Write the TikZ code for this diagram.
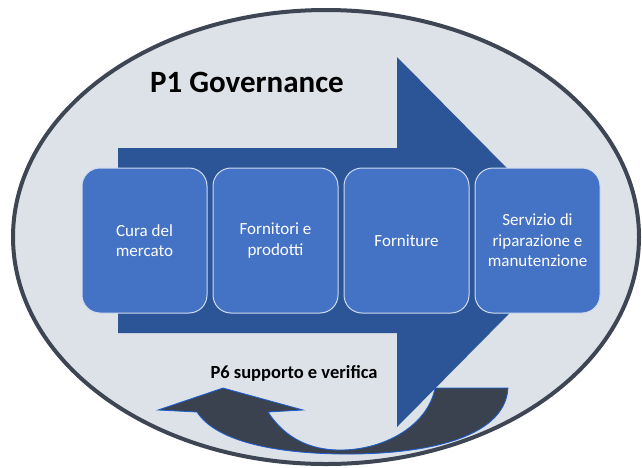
\documentclass[tikz,border=0pt]{standalone}
\usepackage{fontspec}
\setmainfont{Carlito}
\usetikzlibrary{positioning}
\definecolor{rimgray}{HTML}{3E4653}
\definecolor{ovalfill}{HTML}{DDE1E8}
\definecolor{flowblue}{HTML}{2C5597}
\definecolor{boxblue}{HTML}{4472C4}
\definecolor{loopgray}{HTML}{3A4250}
\definecolor{loopedge}{HTML}{1F5FD6}
\tikzset{phase/.style={draw=white!75!boxblue, line width=1pt, fill=boxblue, rounded corners=18pt,
   minimum width=125pt, minimum height=145pt, text width=115pt, align=flush center, inner sep=0pt,
   text=white, font=\fontsize{17}{20.5}\selectfont},
 heading/.style={black, font=\bfseries\fontsize{31}{36}\selectfont},
 subheading/.style={black, font=\bfseries\fontsize{18.5}{22}\selectfont}}

\begin{document}
\begin{tikzpicture}[x=1pt,y=-1pt]
   \useasboundingbox (0,0) rectangle (642,467);
   \draw[rimgray, line width=4pt, fill=ovalfill] (326,237) ellipse [x radius=313, y radius=227];
   % main flow arrow
   \fill[flowblue] (118,148) -- (397,148) -- (397,57) -- (580,242) -- (397,427) -- (397,333) -- (118,333) -- cycle;
   \node[heading] (gov) at (247,82) {P1 Governance};
   \node[phase] (cura) at (144.5,240.5) {Cura del\\mercato};
   \node[phase, right=5pt of cura] (forni) {Fornitori e\\prodotti};
   \node[phase, right=5pt of forni] (forniture) {Forniture};
   \node[phase, right=5pt of forniture] (servizio) {Servizio di\\riparazione e\\manutenzione};
   % return arrow
   \draw[loopedge, line width=0.8pt, fill=loopgray]
      (508,388) .. controls (505,440) and (420,455) .. (340,454)
      .. controls (270,453) and (215,440) .. (197,412)
      -- (158,410) -- (223,388) -- (303,410) -- (268,412)
      .. controls (285,438) and (310,450) .. (340,450)
      .. controls (385,450) and (428,425) .. (435,388) -- cycle;
   \node[subheading] (verifica) at (294,373) {P6 supporto e verifica};
\end{tikzpicture}
\end{document}
